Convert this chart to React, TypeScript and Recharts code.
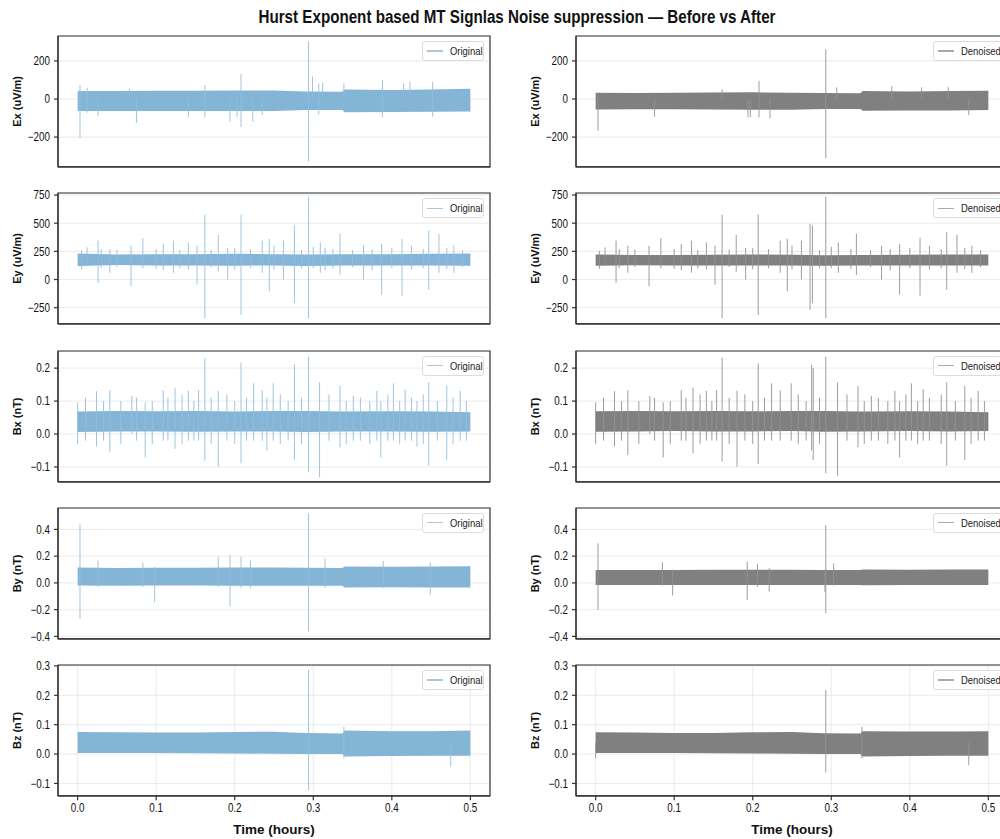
import { Area, CartesianGrid, ComposedChart, ReferenceArea, ReferenceLine, XAxis, YAxis } from "recharts"

// band envelope sample times (hours); the step near 0.34 h is where the level shifts
const bandTime = [0, 0.05, 0.1, 0.15, 0.2, 0.25, 0.29, 0.337, 0.34, 0.4, 0.45, 0.5]
const timeTicks = [0, 0.1, 0.2, 0.3, 0.4, 0.5]

type Spike = [number, number, number] // time, low, high

// ---- Ex (uV/m)
const exOrigLow = [-63, -63, -63, -63, -63, -63, -58, -58, -70, -68, -67, -66]
const exOrigHigh = [42, 42, 43, 44, 45, 45, 40, 38, 50, 48, 50, 54]
const exOrigSpikes: Spike[] = [
  [0.003, -203, 74], [0.012, -72, 58], [0.026, -89, 0], [0.066, 0, 56], [0.075, -125, 0],
  [0.141, -96, 0], [0.162, -96, 74], [0.194, -121, 0], [0.203, -93, 0], [0.208, -146, 132],
  [0.223, -119, 0], [0.235, -84, 0], [0.294, -328, 302], [0.299, 0, 118], [0.307, -81, 82],
  [0.312, 0, 86], [0.339, 0, 82], [0.388, -96, 100], [0.415, 0, 82], [0.423, 0, 91], [0.452, -93, 91],
]
const exDenLow = [-55, -54, -54, -55, -56, -56, -52, -52, -62, -60, -60, -58]
const exDenHigh = [33, 32, 33, 34, 35, 33, 32, 30, 42, 40, 42, 44]
const exDenSpikes: Spike[] = [
  [0.003, -167, 30], [0.075, -93, 0], [0.161, 0, 51], [0.194, -96, 0], [0.197, -96, 0],
  [0.208, -96, 95], [0.222, -102, 0], [0.293, -312, 261], [0.307, 0, 61], [0.377, 0, 68],
  [0.415, 0, 61], [0.449, 0, 62], [0.475, -84, 0],
]

// ---- Ey (uV/m)
const eyOrigLow = [120, 128, 125, 125, 122, 125, 120, 125, 125, 125, 125, 122]
const eyOrigHigh = [230, 222, 225, 225, 228, 225, 222, 225, 225, 225, 228, 230]
const eyOrigSpikes: Spike[] = [
  [0.005, 90, 260], [0.012, 150, 285], [0.026, -30, 345], [0.03, 100, 270], [0.041, 60, 270],
  [0.05, 110, 265], [0.068, -60, 300], [0.083, 100, 366], [0.1, 95, 270], [0.109, 80, 315],
  [0.122, 60, 345], [0.13, 100, 260], [0.141, 90, 330], [0.152, -45, 300], [0.162, -345, 576],
  [0.17, 110, 265], [0.179, 70, 396], [0.191, 0, 280], [0.2, 90, 280], [0.208, -315, 576],
  [0.22, 100, 270], [0.235, 60, 345], [0.244, -105, 360], [0.25, 90, 300], [0.262, 0, 345],
  [0.276, -210, 480], [0.285, 100, 260], [0.294, -345, 735], [0.3, 100, 290], [0.309, 60, 330],
  [0.315, 80, 280], [0.325, 95, 270], [0.334, 40, 405], [0.35, 110, 260], [0.364, 0, 300],
  [0.375, 80, 270], [0.387, -135, 315], [0.4, 100, 280], [0.413, -144, 360], [0.425, 90, 300],
  [0.44, 100, 270], [0.447, -90, 435], [0.46, 60, 405], [0.47, 95, 280], [0.479, 60, 300],
  [0.49, 110, 260],
]
const eyDenLow = [122, 126, 125, 125, 124, 125, 122, 125, 125, 125, 125, 124]
const eyDenHigh = [222, 218, 218, 220, 222, 220, 216, 218, 218, 220, 222, 222]
const eyDenSpikes: Spike[] = [
  [0.005, 95, 255], [0.012, 150, 285], [0.026, -30, 345], [0.03, 100, 270], [0.041, 60, 300],
  [0.05, 110, 265], [0.068, -60, 300], [0.083, 100, 366], [0.1, 95, 270], [0.109, 80, 315],
  [0.122, 60, 345], [0.13, 100, 260], [0.141, 90, 330], [0.152, -45, 300], [0.161, -345, 576],
  [0.17, 110, 265], [0.179, 70, 396], [0.191, 0, 280], [0.2, 90, 280], [0.207, -315, 576],
  [0.22, 100, 270], [0.235, 60, 345], [0.244, -105, 360], [0.25, 90, 300], [0.262, 0, 345],
  [0.273, -270, 495], [0.276, -210, 480], [0.285, 100, 260], [0.293, -345, 735], [0.3, 100, 290],
  [0.309, 60, 330], [0.325, 95, 270], [0.332, 40, 405], [0.35, 110, 260], [0.364, 0, 300],
  [0.375, 80, 270], [0.387, -135, 315], [0.4, 100, 280], [0.413, -144, 370], [0.425, 90, 300],
  [0.44, 100, 270], [0.447, -90, 420], [0.46, 60, 396], [0.47, 95, 280], [0.479, 60, 300],
  [0.49, 110, 260],
]

// ---- Bx (nT)
const bxOrigLow = [0.006, 0.008, 0.008, 0.007, 0.008, 0.008, 0.006, 0.008, 0.008, 0.008, 0.007, 0.008]
const bxOrigHigh = [0.068, 0.07, 0.069, 0.07, 0.068, 0.07, 0.07, 0.068, 0.068, 0.069, 0.068, 0.066]
const bxOrigSpikes: Spike[] = [
  [0.0, -0.03, 0.096], [0.01, -0.02, 0.11], [0.024, -0.038, 0.13], [0.033, -0.02, 0.1],
  [0.041, -0.054, 0.133], [0.055, -0.03, 0.1], [0.069, 0.0, 0.116], [0.075, -0.02, 0.11],
  [0.086, -0.071, 0.096], [0.095, -0.03, 0.1], [0.109, -0.02, 0.133], [0.115, -0.02, 0.11],
  [0.124, -0.045, 0.141], [0.133, -0.03, 0.12], [0.141, -0.02, 0.131], [0.148, -0.02, 0.1],
  [0.154, -0.02, 0.133], [0.162, -0.081, 0.23], [0.17, -0.03, 0.11], [0.179, -0.099, 0.131],
  [0.19, -0.02, 0.12], [0.2, -0.03, 0.1], [0.208, -0.089, 0.217], [0.215, -0.02, 0.11],
  [0.224, -0.02, 0.154], [0.235, -0.02, 0.133], [0.241, -0.05, 0.11], [0.249, -0.02, 0.154],
  [0.258, -0.03, 0.12], [0.268, -0.02, 0.1], [0.276, -0.079, 0.212], [0.285, -0.03, 0.11],
  [0.294, -0.116, 0.234], [0.308, -0.131, 0.157], [0.32, -0.02, 0.12], [0.334, -0.04, 0.146],
  [0.342, -0.03, 0.1], [0.351, -0.02, 0.116], [0.36, -0.02, 0.11], [0.372, -0.03, 0.1],
  [0.381, -0.02, 0.131], [0.386, -0.071, 0.1], [0.395, -0.02, 0.12], [0.402, -0.02, 0.154],
  [0.41, -0.03, 0.1], [0.417, -0.02, 0.136], [0.425, -0.02, 0.11], [0.432, -0.038, 0.1],
  [0.44, -0.03, 0.12], [0.447, -0.096, 0.157], [0.458, -0.02, 0.1], [0.47, -0.079, 0.146],
  [0.478, -0.03, 0.11], [0.487, -0.02, 0.131], [0.495, -0.02, 0.1],
]
const bxDenLow = [0.007, 0.008, 0.009, 0.008, 0.008, 0.009, 0.007, 0.008, 0.008, 0.009, 0.008, 0.009]
const bxDenHigh = [0.069, 0.07, 0.069, 0.07, 0.069, 0.07, 0.07, 0.068, 0.068, 0.069, 0.068, 0.066]
const bxDenSpikes: Spike[] = [
  [0.0, -0.03, 0.096], [0.01, -0.02, 0.11], [0.024, -0.038, 0.13], [0.033, -0.02, 0.1],
  [0.041, -0.064, 0.133], [0.055, -0.03, 0.1], [0.069, 0.0, 0.116], [0.075, -0.02, 0.11],
  [0.086, -0.071, 0.096], [0.095, -0.03, 0.1], [0.109, -0.02, 0.133], [0.115, -0.02, 0.11],
  [0.124, -0.058, 0.141], [0.133, -0.03, 0.12], [0.141, -0.02, 0.131], [0.148, -0.02, 0.1],
  [0.154, -0.02, 0.133], [0.161, -0.083, 0.232], [0.17, -0.03, 0.11], [0.18, -0.099, 0.131],
  [0.19, -0.02, 0.12], [0.2, -0.03, 0.1], [0.207, -0.091, 0.214], [0.215, -0.02, 0.11],
  [0.224, -0.02, 0.154], [0.235, -0.02, 0.133], [0.249, -0.02, 0.154], [0.258, -0.03, 0.12],
  [0.268, -0.02, 0.1], [0.275, -0.05, 0.21], [0.277, -0.079, 0.2], [0.285, -0.03, 0.11],
  [0.293, -0.119, 0.234], [0.308, -0.127, 0.157], [0.32, -0.02, 0.12], [0.334, -0.04, 0.146],
  [0.342, -0.03, 0.1], [0.351, -0.02, 0.116], [0.36, -0.02, 0.11], [0.372, -0.03, 0.1],
  [0.381, -0.02, 0.131], [0.387, -0.071, 0.1], [0.395, -0.02, 0.12], [0.402, -0.02, 0.154],
  [0.41, -0.03, 0.1], [0.417, -0.02, 0.136], [0.425, -0.02, 0.11], [0.44, -0.03, 0.12],
  [0.447, -0.096, 0.157], [0.458, -0.02, 0.1], [0.47, -0.079, 0.146], [0.478, -0.03, 0.11],
  [0.487, -0.02, 0.131], [0.495, -0.02, 0.1],
]

// ---- By (nT)
const byOrigLow = [-0.02, -0.022, -0.02, -0.02, -0.022, -0.022, -0.022, -0.022, -0.035, -0.033, -0.035, -0.035]
const byOrigHigh = [0.115, 0.112, 0.113, 0.114, 0.115, 0.115, 0.113, 0.112, 0.122, 0.12, 0.122, 0.125]
const byOrigSpikes: Spike[] = [
  [0.003, -0.268, 0.437], [0.026, -0.03, 0.166], [0.083, -0.03, 0.152], [0.098, -0.144, 0.12],
  [0.179, -0.03, 0.196], [0.194, -0.176, 0.209], [0.208, -0.04, 0.196], [0.22, -0.04, 0.17],
  [0.294, -0.363, 0.519], [0.315, -0.04, 0.184], [0.389, -0.04, 0.164], [0.449, -0.089, 0.15],
]
const byDenLow = [-0.015, -0.016, -0.015, -0.015, -0.016, -0.016, -0.015, -0.015, -0.017, -0.016, -0.016, -0.015]
const byDenHigh = [0.097, 0.096, 0.097, 0.098, 0.099, 0.098, 0.097, 0.097, 0.1, 0.099, 0.1, 0.1]
const byDenSpikes: Spike[] = [
  [0.003, -0.201, 0.296], [0.085, -0.02, 0.154], [0.098, -0.094, 0.1], [0.193, -0.127, 0.159],
  [0.206, -0.03, 0.142], [0.221, -0.065, 0.11], [0.292, -0.07, 0.1], [0.293, -0.226, 0.432],
  [0.303, -0.02, 0.147],
]

// ---- Bz (nT)
const bzOrigLow = [0.004, 0.004, 0.004, 0.003, 0.002, 0.001, 0.0, 0.0, -0.008, -0.007, -0.006, -0.006]
const bzOrigHigh = [0.075, 0.074, 0.073, 0.073, 0.075, 0.076, 0.072, 0.07, 0.08, 0.078, 0.078, 0.08]
const bzOrigSpikes: Spike[] = [[0.294, -0.123, 0.286], [0.339, -0.015, 0.093], [0.475, -0.043, 0.04]]
const bzDenLow = [0.004, 0.004, 0.004, 0.003, 0.002, 0.001, 0.0, 0.0, -0.008, -0.007, -0.006, -0.006]
const bzDenHigh = [0.074, 0.073, 0.072, 0.072, 0.074, 0.075, 0.071, 0.07, 0.078, 0.077, 0.077, 0.078]
const bzDenSpikes: Spike[] = [[0.0, -0.015, 0.04], [0.293, -0.0625, 0.218], [0.339, -0.015, 0.093], [0.475, -0.0375, 0.04]]

const rows = [
  { label: "Ex (uV/m)", domain: [-356, 331], ticks: [-200, 0, 200], dec: 0,
    orig: [exOrigLow, exOrigHigh, exOrigSpikes], den: [exDenLow, exDenHigh, exDenSpikes] },
  { label: "Ey (uV/m)", domain: [-393, 768], ticks: [-250, 0, 250, 500, 750], dec: 0,
    orig: [eyOrigLow, eyOrigHigh, eyOrigSpikes], den: [eyDenLow, eyDenHigh, eyDenSpikes] },
  { label: "Bx (nT)", domain: [-0.145, 0.252], ticks: [-0.1, 0, 0.1, 0.2], dec: 1,
    orig: [bxOrigLow, bxOrigHigh, bxOrigSpikes], den: [bxDenLow, bxDenHigh, bxDenSpikes] },
  { label: "By (nT)", domain: [-0.418, 0.56], ticks: [-0.4, -0.2, 0, 0.2, 0.4], dec: 1,
    orig: [byOrigLow, byOrigHigh, byOrigSpikes], den: [byDenLow, byDenHigh, byDenSpikes] },
  { label: "Bz (nT)", domain: [-0.142, 0.303], ticks: [-0.1, 0, 0.1, 0.2, 0.3], dec: 1,
    orig: [bzOrigLow, bzOrigHigh, bzOrigSpikes], den: [bzDenLow, bzDenHigh, bzDenSpikes] },
]

const X_DOMAIN = [-0.025, 0.525]
const PLOT_TOP = 36
const ROW_STEP = 157.25
const PLOT_H = 130.8
const SPINE = "#333"
const SANS = "'Liberation Sans', Arial, sans-serif"
const SQUEEZE = 0.82 // narrow look of the reference text

const styles = {
  orig: { band: "#84b4d6", spike: "#92bedd", legend: "#a9c8e0", name: "Original" },
  den: { band: "#808080", spike: "#929292", legend: "#aaaaaa", name: "Denoised" },
}

const fmt = (v: number, dec: number) => v.toFixed(dec).replace("-", "\u2212")

function NarrowTick(props: any) {
  const { x, y, payload, dec, axis } = props
  const isY = axis === "y"
  return (
    <g transform={`translate(${x},${y})`}>
      <text transform={`scale(${SQUEEZE},1)`} textAnchor={isY ? "end" : "middle"} dy={isY ? "0.36em" : "0.72em"}
        style={{ fontFamily: SANS, fontSize: 12, fill: "#111" }}>
        {fmt(payload.value, dec)}
      </text>
    </g>
  )
}

function yLabel(text: string) {
  return (props: any) => {
    const vb = props.viewBox || {}
    const x = vb.x + vb.width - 37
    const y = vb.y + vb.height / 2
    return (
      <text x={x} y={y} transform={`rotate(-90 ${x} ${y})`} textAnchor="middle"
        style={{ fontFamily: SANS, fontWeight: 700, fontSize: 11, fill: "#111" }}>
        {text}
      </text>
    )
  }
}

function xLabel(props: any) {
  const vb = props.viewBox || {}
  return (
    <text x={vb.x + vb.width / 2} y={vb.y + 38} textAnchor="middle"
      style={{ fontFamily: SANS, fontWeight: 700, fontSize: 13.5, fill: "#111" }}>
      Time (hours)
    </text>
  )
}

function Panel({ row, idx, side }: { row: any; idx: number; side: "orig" | "den" }) {
  const [lo, hi, spikes] = row[side] as [number[], number[], Spike[]]
  const st = styles[side]
  const bottom = idx === rows.length - 1
  const xh = bottom ? 46 : 8
  const top = PLOT_TOP + idx * ROW_STEP
  const data = bandTime.map((t, i) => ({ t, band: [lo[i], hi[i]] }))
  const legendW = side === "orig" ? 62 : 69

  return (
    <div style={{ position: "absolute", left: side === "orig" ? 0 : 518.3, top: top - 10, width: 500 }}>
      <ComposedChart width={500} height={10 + PLOT_H + xh} data={data}
        margin={{ top: 10, right: 10, bottom: 0, left: 0 }}>
        <CartesianGrid stroke="#e6e6e6" strokeWidth={0.8} />
        <XAxis dataKey="t" type="number" domain={X_DOMAIN} ticks={timeTicks} allowDataOverflow
          height={xh} tick={bottom ? <NarrowTick axis="x" dec={1} /> : false} tickSize={4.5} tickMargin={3}
          stroke={SPINE} strokeWidth={1.2} label={bottom ? xLabel : undefined} />
        <YAxis type="number" domain={row.domain} ticks={row.ticks} allowDataOverflow width={58}
          tick={<NarrowTick axis="y" dec={row.dec} />} tickSize={4} tickMargin={4}
          stroke={SPINE} strokeWidth={1.2} label={yLabel(row.label)} />
        {spikes.map(([t, a, b], i) => (
          <ReferenceLine key={i} segment={[{ x: t, y: a }, { x: t, y: b }]} stroke={st.spike}
            strokeWidth={0.9} ifOverflow="visible" />
        ))}
        <Area dataKey="band" type="linear" stroke="none" fill={st.band} fillOpacity={1}
          isAnimationActive={false} name={st.name} />
        <ReferenceArea x1={X_DOMAIN[0]} x2={X_DOMAIN[1]} y1={row.domain[0]} y2={row.domain[1]}
          fill="none" fillOpacity={0} stroke={SPINE} strokeWidth={1.2} ifOverflow="visible" />
      </ComposedChart>
      <div style={{
        position: "absolute", top: 15, left: 490 - 6 - legendW, width: legendW, height: 20,
        boxSizing: "border-box", border: "1px solid #dcdcdc", borderRadius: 3, background: "rgba(255,255,255,0.85)",
        display: "flex", alignItems: "center", fontFamily: SANS, fontSize: 11.5, color: "#222", whiteSpace: "nowrap",
      }}>
        <span style={{ display: "inline-block", width: 16, height: 1.2, background: st.legend, marginLeft: 4, marginRight: 7, flex: "none" }} />
        <span style={{ display: "inline-block", transform: `scaleX(${SQUEEZE})`, transformOrigin: "left center" }}>{st.name}</span>
      </div>
    </div>
  )
}

export default function App() {
  return (
    <div style={{ position: "absolute", left: 0, top: 0, width: 1000, height: 839, overflow: "hidden", background: "#fff" }}>
      <div style={{
        position: "absolute", left: 0, top: 6, width: 1034, textAlign: "center", lineHeight: "22px",
        fontFamily: SANS, fontWeight: 700, fontSize: 18.5, color: "#111",
        transform: `scaleX(${SQUEEZE})`, transformOrigin: "517px center",
      }}>
        Hurst Exponent based MT Signlas Noise suppression — Before vs After
      </div>
      {rows.map((row, i) => (
        <div key={row.label}>
          <Panel row={row} idx={i} side="orig" />
          <Panel row={row} idx={i} side="den" />
        </div>
      ))}
    </div>
  )
}
